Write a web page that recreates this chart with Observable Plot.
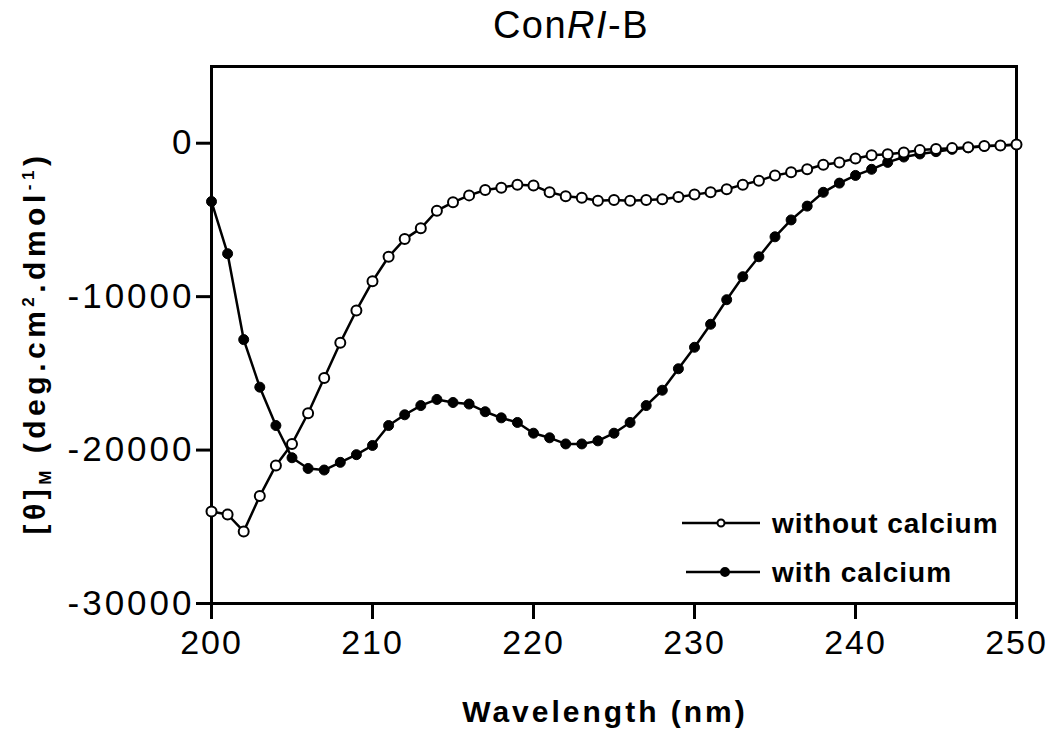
<!DOCTYPE html>
<html><head><meta charset="utf-8">
<script src="https://cdn.jsdelivr.net/npm/d3@7"></script>
<script src="https://cdn.jsdelivr.net/npm/@observablehq/plot@0.6"></script>
<style>
body{margin:0;background:#fff}
svg{display:block}
g[aria-label="x-axis tick label"] text{letter-spacing:2px}
g[aria-label="y-axis tick label"] text{letter-spacing:3px}
</style>
</head><body><div id="chart"></div>
<script>
const wavelengths = [200,201,202,203,204,205,206,207,208,209,210,211,212,213,214,215,216,217,218,219,220,221,222,223,224,225,226,227,228,229,230,231,232,233,234,235,236,237,238,239,240,241,242,243,244,245,246,247,248,249,250];
const withoutCalcium = [-24000,-24200,-25300,-23000,-21000,-19600,-17600,-15300,-13000,-10900,-9000,-7400,-6250,-5550,-4400,-3850,-3400,-3050,-2900,-2700,-2750,-3200,-3450,-3550,-3750,-3700,-3750,-3700,-3650,-3500,-3350,-3200,-3000,-2700,-2450,-2100,-1900,-1700,-1400,-1250,-1000,-780,-720,-600,-450,-370,-320,-260,-180,-150,-80];
const withCalcium = [-3800,-7200,-12800,-15900,-18400,-20500,-21200,-21300,-20800,-20300,-19700,-18400,-17700,-17100,-16700,-16900,-17000,-17500,-17900,-18200,-18900,-19200,-19600,-19600,-19400,-18900,-18200,-17100,-16100,-14700,-13300,-11800,-10200,-8700,-7400,-6100,-5000,-4100,-3200,-2600,-2100,-1700,-1250,-900,-700,-550,-400,-300,-200,-150,-100];
const xTicks = [200,210,220,230,240,250];
const yTicks = [0,-10000,-20000,-30000];
const seriesNames = ["without calcium","with calcium"];

const rowsWithout = wavelengths.map((w,i)=>({w, v: withoutCalcium[i]}));
const rowsWith = wavelengths.map((w,i)=>({w, v: withCalcium[i]}));

const font = "'Liberation Sans', Arial, Helvetica, sans-serif";
const plot = Plot.plot({
  width: 1050, height: 735,
  marginLeft: 211, marginRight: 34, marginTop: 66, marginBottom: 132,
  style: {fontFamily: font, background: "#fff", color: "#000", overflow: "visible"},
  x: {domain: [200, 250]},
  y: {domain: [-30000, 5000]},
  marks: [
    Plot.axisY({ticks: yTicks, tickSize: 15, tickPadding: 2, tickFormat: d => String(d), fontSize: 35, strokeWidth: 3, label: null}),
    Plot.axisX({ticks: xTicks, tickSize: 16, tickPadding: 10, tickFormat: d => String(d), fontSize: 34, strokeWidth: 3, label: null}),
    Plot.frame({stroke: "#000", strokeWidth: 3}),
    Plot.line(rowsWith, {x: "w", y: "v", stroke: "#000", strokeWidth: 2.5}),
    Plot.dot(rowsWith, {x: "w", y: "v", r: 5, fill: "#000", stroke: "#000", strokeWidth: 1}),
    Plot.line(rowsWithout, {x: "w", y: "v", stroke: "#000", strokeWidth: 2.5}),
    Plot.dot(rowsWithout, {x: "w", y: "v", r: 5, fill: "#fff", stroke: "#000", strokeWidth: 2})
  ]
});
document.getElementById("chart").appendChild(plot);

const svg = d3.select(plot);
// Title
const t = svg.append("text").attr("x", 571).attr("y", 38).attr("text-anchor", "middle")
  .attr("font-family", font).attr("font-size", 38).attr("letter-spacing", "1.5px").attr("fill", "#000");
t.append("tspan").text("Con");
t.append("tspan").attr("font-style", "italic").text("RI");
t.append("tspan").text("-B");

// X label
svg.append("text").attr("x", 605).attr("y", 722).attr("text-anchor", "middle")
  .attr("font-family", font).attr("font-size", 30).attr("font-weight", "bold")
  .attr("letter-spacing", "3px").attr("fill", "#000").text("Wavelength (nm)");

// Y label
const yl = svg.append("text").attr("transform", "translate(45,343) rotate(-90)").attr("text-anchor", "middle")
  .attr("font-family", font).attr("font-size", 30).attr("font-weight", "bold")
  .attr("letter-spacing", "4.5px").attr("fill", "#000");
yl.append("tspan").text("[θ]");
yl.append("tspan").attr("font-size", 17).attr("dy", 6).text("M");
yl.append("tspan").attr("dy", -6).text(" (deg.cm");
yl.append("tspan").attr("font-size", 17).attr("dy", -11).text("2");
yl.append("tspan").attr("dy", 11).text(".dmol");
yl.append("tspan").attr("font-size", 17).attr("dy", -11).text("-1");
yl.append("tspan").attr("dy", 11).text(")");

// Legend
const legend = svg.append("g").attr("font-family", font).attr("text-anchor", "start");
const legendItems = [
  {name: seriesNames[0], y: 523, x1: 682, x2: 760, mx: 721, fill: "#fff", r: 3.5},
  {name: seriesNames[1], y: 572, x1: 686, x2: 760, mx: 725, fill: "#000", r: 4}
];
legendItems.forEach(it => {
  legend.append("line").attr("x1", it.x1).attr("x2", it.x2).attr("y1", it.y).attr("y2", it.y)
    .attr("stroke", "#000").attr("stroke-width", 2.5);
  legend.append("circle").attr("cx", it.mx).attr("cy", it.y).attr("r", it.r)
    .attr("fill", it.fill).attr("stroke", "#000").attr("stroke-width", 2);
  legend.append("text").attr("x", 772).attr("y", it.y + 10).attr("font-size", 28)
    .attr("text-anchor", "start")
    .attr("font-weight", "bold").attr("letter-spacing", "1px").attr("fill", "#000").text(it.name);
});
</script>
</body></html>
